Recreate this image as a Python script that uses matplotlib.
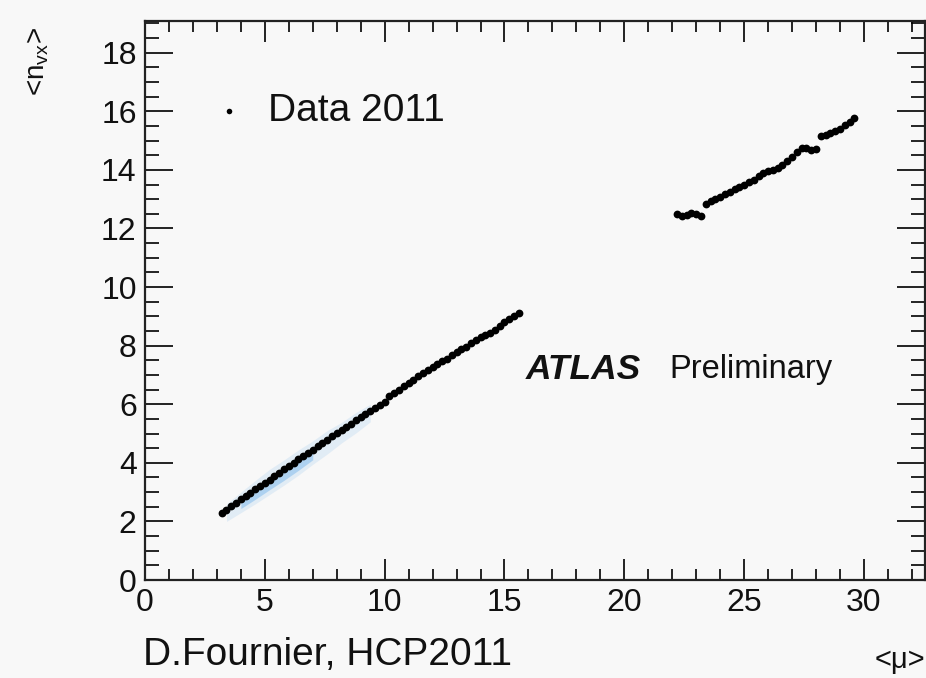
import numpy as np
import matplotlib
matplotlib.use("Agg")
import matplotlib.pyplot as plt
from matplotlib.ticker import MultipleLocator

plt.rcParams['font.family'] = ['Liberation Sans', 'DejaVu Sans']
plt.rcParams['mathtext.fontset'] = 'custom'
plt.rcParams['mathtext.rm'] = 'Liberation Sans'
plt.rcParams['mathtext.it'] = 'Liberation Sans:italic'

# ---- data ----
mu_low = [3.2, 3.4, 3.6, 3.8, 4.0, 4.2, 4.4, 4.6, 4.8, 5.0,
          5.2, 5.4, 5.6, 5.8, 6.0, 6.2, 6.4, 6.6, 6.8, 7.0,
          7.2, 7.4, 7.6, 7.8, 8.0, 8.2, 8.4, 8.6, 8.8, 9.0,
          9.2, 9.4, 9.6, 9.8, 10.0, 10.2, 10.4, 10.6, 10.8, 11.0,
          11.2, 11.4, 11.6, 11.8, 12.0, 12.2, 12.4, 12.6, 12.8, 13.0,
          13.2, 13.4, 13.6, 13.8, 14.0, 14.2, 14.4, 14.6, 14.8, 15.0,
          15.2, 15.4, 15.6]
nvx_low = [2.28, 2.40, 2.51, 2.63, 2.75, 2.86, 2.98, 3.09, 3.21, 3.32,
           3.43, 3.55, 3.66, 3.78, 3.89, 4.00, 4.12, 4.23, 4.34, 4.45,
           4.56, 4.68, 4.79, 4.90, 5.01, 5.12, 5.23, 5.34, 5.45, 5.56,
           5.66, 5.77, 5.88, 5.98, 6.08, 6.29, 6.38, 6.49, 6.62, 6.72,
           6.84, 6.95, 7.05, 7.16, 7.27, 7.36, 7.48, 7.56, 7.68, 7.79,
           7.90, 7.97, 8.08, 8.20, 8.28, 8.38, 8.44, 8.55, 8.68, 8.80,
           8.92, 9.02, 9.12]

mu_high = [22.2, 22.4, 22.6, 22.8, 23.0, 23.2, 23.4, 23.6, 23.8, 24.0,
           24.2, 24.4, 24.6, 24.8, 25.0, 25.2, 25.4, 25.6, 25.8, 26.0,
           26.2, 26.4, 26.6, 26.8, 27.0, 27.2, 27.4, 27.6, 27.8, 28.0,
           28.2, 28.4, 28.6, 28.8, 29.0, 29.2, 29.4, 29.6]
nvx_high = [12.48, 12.43, 12.45, 12.53, 12.50, 12.42, 12.85, 12.93, 13.00, 13.08,
            13.17, 13.25, 13.33, 13.41, 13.48, 13.58, 13.66, 13.78, 13.88, 13.96,
            14.01, 14.05, 14.18, 14.31, 14.43, 14.60, 14.74, 14.74, 14.67, 14.70,
            15.17, 15.20, 15.25, 15.31, 15.40, 15.52, 15.64, 15.76]

# faint 2D-distribution band underneath (mu, centre, half-width)
band_mu = [3.4, 4.0, 4.6, 5.2, 5.8, 6.4, 7.0, 7.6, 8.2, 8.8, 9.4]
band_nvx = [2.35, 2.70, 3.05, 3.40, 3.72, 4.06, 4.40, 4.75, 5.08, 5.42, 5.75]
band_w = [0.25, 0.30, 0.35, 0.38, 0.38, 0.38, 0.35, 0.35, 0.30, 0.30, 0.25]

bg = '#f8f8f8'
fig = plt.figure(figsize=(9.26, 6.78), dpi=100, facecolor=bg)
ax = fig.add_axes([0.1566, 0.1445, 0.8424, 0.8245], facecolor=bg)

bm = np.array(band_mu); bn = np.array(band_nvx); bw = np.array(band_w)
ax.fill_between(bm, bn - bw - 0.1, bn + bw, color='#a8cdee', alpha=0.28, lw=0)
ax.fill_between(bm[1:7], (bn - bw * 0.7 - 0.05)[1:7], (bn + bw * 0.2)[1:7],
                color='#5aa6ea', alpha=0.38, lw=0)

ax.plot(mu_low, nvx_low, 'o', color='black', ms=5.6, mew=0)
ax.plot(mu_high, nvx_high, 'o', color='black', ms=5.6, mew=0)

ax.set_xlim(0, 32.55)
ax.set_ylim(0, 19.08)
ax.xaxis.set_major_locator(MultipleLocator(5))
ax.xaxis.set_minor_locator(MultipleLocator(1))
ax.yaxis.set_major_locator(MultipleLocator(2))
ax.yaxis.set_minor_locator(MultipleLocator(0.5))

for s in ax.spines.values():
    s.set_linewidth(1.6)
    s.set_color('#222222')

ax.tick_params(axis='x', which='major', direction='in', length=15, width=1.4,
               top=True, bottom=True, labelsize=23, pad=6, colors='#222222')
ax.tick_params(axis='x', which='minor', direction='in', length=8, width=1.2,
               top=True, bottom=True)
ax.tick_params(axis='y', which='major', direction='in', length=20, width=1.4,
               left=True, right=True, labelsize=23, pad=6, colors='#222222')
ax.tick_params(axis='y', which='minor', direction='in', length=10, width=1.2,
               left=True, right=True)
for lbl in ax.get_xticklabels() + ax.get_yticklabels():
    lbl.set_color('#111111')

# legend-like marker and text
ax.plot([3.5], [16.0], 'o', color='black', ms=4, mew=0)
ax.text(5.15, 16.0, 'Data 2011', fontsize=28, va='center', ha='left', color='#111111')

ax.text(15.9, 7.17, 'ATLAS', fontsize=25.5, fontweight='bold', style='italic',
        va='center', ha='left', color='#111111')
ax.text(21.9, 7.17, 'Preliminary', fontsize=23.5, va='center', ha='left', color='#111111')

fig.text(143 / 926, 1 - 655 / 678, 'D.Fournier, HCP2011', fontsize=28,
         va='center', ha='left', color='#111111')
fig.text(925 / 926, 1 - 660 / 678, '<\u03bc>', fontsize=21, va='center', ha='right',
         color='#111111')
fig.text(38 / 926, 1 - 62 / 678, r'<n$_{\rm vx}$>', fontsize=20, rotation=90,
         va='center', ha='center', color='#111111')

fig.savefig('out.png', dpi=100, facecolor=bg)
